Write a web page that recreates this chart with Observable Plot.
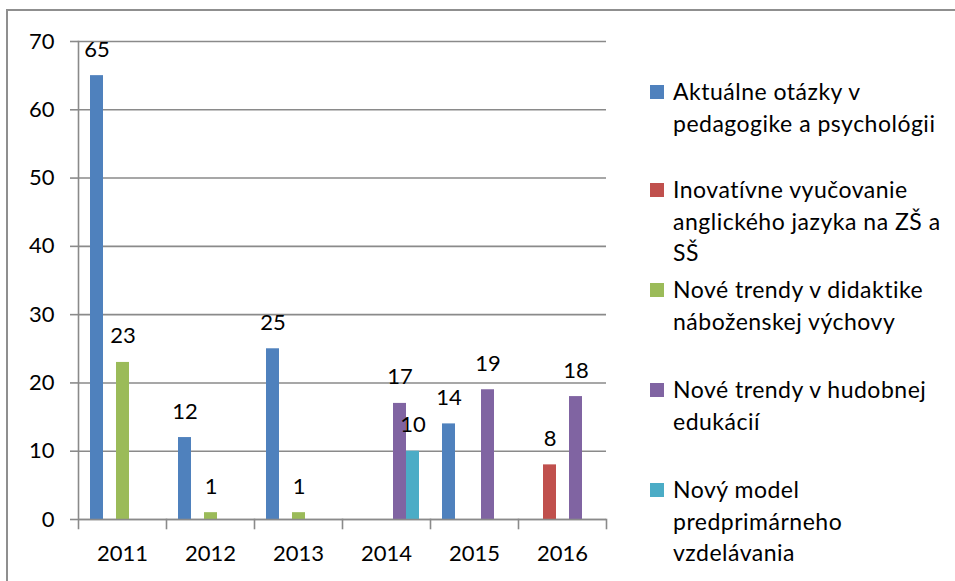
<!DOCTYPE html>
<html><head><meta charset="utf-8">
<script src="https://cdn.jsdelivr.net/npm/d3@7"></script>
<script src="https://cdn.jsdelivr.net/npm/@observablehq/plot@0.6"></script>
<style>
body{margin:0;background:#fff;}
#wrap{position:relative;width:955px;height:581px;overflow:hidden;font-family:Lato,sans-serif;background:#fff;}
#border{position:absolute;left:6px;top:9px;width:1000px;height:1000px;border-top:2px solid #8f8f8f;border-left:2px solid #8f8f8f;}
#chart{position:absolute;left:0;top:0;}
.leg{position:absolute;left:650px;font-size:23px;line-height:31.5px;color:#000;letter-spacing:0.5px;}
.sw{position:absolute;left:0;top:9px;width:14px;height:14px;}
.lt{position:absolute;left:23px;top:0;white-space:nowrap;}
</style>
</head>
<body>
<div id="wrap"><div id="border"></div><div id="chart"></div><div id="legend"></div></div>
<script>
const years = ["2011","2012","2013","2014","2015","2016"];
const seriesNames = [
  "Aktuálne otázky v pedagogike a psychológii",
  "Inovatívne vyučovanie anglického jazyka na ZŠ a SŠ",
  "Nové trendy v didaktike náboženskej výchovy",
  "Nové trendy v hudobnej edukácií",
  "Nový model predprimárneho vzdelávania"
];
const aktualne     = [65, 12, 25, null, 14, null];
const inovativne   = [null, null, null, null, null, 8];
const didaktika    = [23, 1, 1, null, null, null];
const hudobna      = [null, null, null, 17, 19, 18];
const predprimarne = [null, null, null, 10, null, null];
const yTicks = [0, 10, 20, 30, 40, 50, 60, 70];
const colors = ["#4F81BD", "#C0504D", "#9BBB59", "#8064A2", "#4BACC6"];
const legendLines = [
  ["Aktuálne otázky v", "pedagogike a psychológii"],
  ["Inovatívne vyučovanie", "anglického jazyka na ZŠ a", "SŠ"],
  ["Nové trendy v didaktike", "náboženskej výchovy"],
  ["Nové trendy v hudobnej", "edukácií"],
  ["Nový model", "predprimárneho", "vzdelávania"]
];

const allSeries = [aktualne, inovativne, didaktika, hudobna, predprimarne];
const rows = [];
years.forEach((yr, i) => {
  allSeries.forEach((vals, s) => {
    if (vals[i] != null) rows.push({year: yr, series: seriesNames[s], value: vals[i]});
  });
});

const W = 955, H = 581, mL = 77, mR = 349, mT = 41, mB = 62;
const innerH = H - mT - mB;
const gray = "#8a8a8a";

const chart = Plot.plot({
  width: W, height: H,
  marginLeft: mL, marginRight: mR, marginTop: mT, marginBottom: mB,
  style: {fontFamily: "Lato, sans-serif", fontSize: "22px", color: "#000", background: "transparent"},
  fx: {domain: years, padding: 0, label: null},
  x: {domain: seriesNames, paddingInner: 0, paddingOuter: 0.77, axis: null},
  y: {domain: [0, 70]},
  color: {domain: seriesNames, range: colors},
  marks: [
    Plot.gridY({ticks: yTicks, stroke: gray, strokeOpacity: 1, strokeWidth: 1.6}),
    Plot.axisY({ticks: yTicks, tickSize: 8, tickPadding: 16, stroke: gray, strokeWidth: 1.6, fill: "#000", label: null}),
    Plot.axisFx({anchor: "bottom", tickSize: 0, tickPadding: 26, label: null, fill: "#000"}),
    Plot.barY(rows, {fx: "year", x: "series", y: "value", fill: "series"}),
    Plot.text(rows, {fx: "year", x: "series", y: "value", text: d => String(d.value), lineAnchor: "bottom", dy: -19, fill: "#000"}),
    Plot.ruleY([0], {stroke: gray, strokeWidth: 1.6}),
    Plot.frame({anchor: "left", facetAnchor: "left", insetBottom: -9, stroke: gray, strokeWidth: 1.6}),
    Plot.frame({anchor: "right", insetTop: innerH, insetBottom: -9, stroke: gray, strokeWidth: 1.6})
  ]
});
document.getElementById("chart").appendChild(chart);

const legendTops = [76, 174, 274, 374, 474];
const legend = document.getElementById("legend");
legendLines.forEach((lines, i) => {
  const d = document.createElement("div");
  d.className = "leg";
  d.style.top = legendTops[i] + "px";
  const sw = document.createElement("div");
  sw.className = "sw";
  sw.style.background = colors[i];
  const t = document.createElement("div");
  t.className = "lt";
  lines.forEach((ln, j) => {
    if (j) t.appendChild(document.createElement("br"));
    t.appendChild(document.createTextNode(ln));
  });
  d.appendChild(sw);
  d.appendChild(t);
  legend.appendChild(d);
});
</script>
</body></html>
